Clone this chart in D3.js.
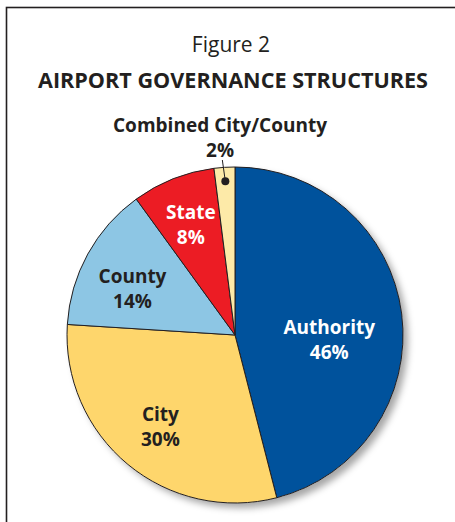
<!DOCTYPE html>
<html>
<head>
<meta charset="utf-8">
<script src="https://cdn.jsdelivr.net/npm/d3@7"></script>
<style>
  body { margin: 0; background: #fff; }
  svg { display: block; font-family: "Open Sans", "Noto Sans", sans-serif; }
</style>
</head>
<body>
<div id="chart"></div>
<script>
var categories = ["Authority", "City", "County", "State", "Combined City/County"]
var shares = [46, 30, 14, 8, 2]
var colors = ["#00529c", "#fed66c", "#8dc6e4", "#ec1c24", "#fdeaa8"]
var labelColors = ["#fff", "#231f20", "#231f20", "#fff", "#231f20"]
var labelRadius = [95, 117, 117, 120, 0]
var labelShift = [17, 2, 10, 2, 0]

var W = 455, H = 522
var cx = 235, cy = 335, R = 168

var svg = d3.select("#chart").append("svg").attr("width", W).attr("height", H)

var defs = svg.append("defs")
var f = defs.append("filter").attr("id", "shadow").attr("x", "-20%").attr("y", "-20%").attr("width", "150%").attr("height", "150%")
f.append("feDropShadow").attr("dx", 5).attr("dy", 5).attr("stdDeviation", 3.5).attr("flood-color", "#000").attr("flood-opacity", 0.35)

// frame
svg.append("rect").attr("x", 6.5).attr("y", 7.5).attr("width", 470).attr("height", 540)
  .attr("fill", "none").attr("stroke", "#231f20").attr("stroke-width", 1.6)

svg.append("text").attr("x", 231).attr("y", 52).attr("text-anchor", "middle")
  .attr("font-size", 21).attr("fill", "#231f20").text("Figure 2")
svg.append("text").attr("x", 233).attr("y", 88).attr("text-anchor", "middle")
  .attr("font-size", 22).attr("font-weight", "bold").attr("fill", "#231f20")
  .attr("textLength", 390).attr("lengthAdjust", "spacingAndGlyphs")
  .text("AIRPORT GOVERNANCE STRUCTURES")

var data = categories.map(function(c, i) { return {name: c, value: shares[i], i: i} })
var pie = d3.pie().value(function(d) { return d.value }).sort(null)
var arcs = pie(data)
var arc = d3.arc().innerRadius(0).outerRadius(R)

var g = svg.append("g").attr("transform", "translate(" + cx + "," + cy + ")")
g.append("circle").attr("r", R).attr("fill", "#fff").attr("filter", "url(#shadow)")
g.selectAll("path.slice").data(arcs).enter().append("path")
  .attr("class", "slice")
  .attr("d", arc)
  .attr("fill", function(d) { return colors[d.data.i] })
  .attr("stroke", "#231f20")
  .attr("stroke-width", 1)
  .attr("stroke-linejoin", "round")

var inner = arcs.filter(function(d) { return labelRadius[d.data.i] > 0 })
inner.forEach(function(d) {
  var a = (d.startAngle + d.endAngle) / 2
  var r = labelRadius[d.data.i]
  var x = Math.sin(a) * r, y = -Math.cos(a) * r + labelShift[d.data.i]
  var t = g.append("text").attr("text-anchor", "middle").attr("font-weight", "bold")
    .attr("font-size", 19).attr("fill", labelColors[d.data.i])
  t.append("tspan").attr("x", x).attr("y", y - 6).text(d.data.name)
  t.append("tspan").attr("x", x).attr("y", y + 19).text(d.data.value + "%")
})

// small slice: callout above the pie
var small = arcs[arcs.length - 1]
var sa = (small.startAngle + small.endAngle) / 2
var dot = [Math.sin(sa) * (R - 14), -Math.cos(sa) * (R - 14)]
g.append("line").attr("x1", dot[0]).attr("y1", dot[1]).attr("x2", dot[0] - 3).attr("y2", -R - 7)
  .attr("stroke", "#231f20").attr("stroke-width", 1)
g.append("circle").attr("cx", dot[0]).attr("cy", dot[1]).attr("r", 4).attr("fill", "#231f20")
var ct = g.append("text").attr("text-anchor", "middle").attr("font-weight", "bold")
  .attr("font-size", 19).attr("fill", "#231f20")
ct.append("tspan").attr("x", -15).attr("y", -R - 35).attr("textLength", 214).attr("lengthAdjust", "spacingAndGlyphs").text(small.data.name)
ct.append("tspan").attr("x", -15).attr("y", -R - 10).text(small.data.value + "%")
</script>
</body>
</html>
